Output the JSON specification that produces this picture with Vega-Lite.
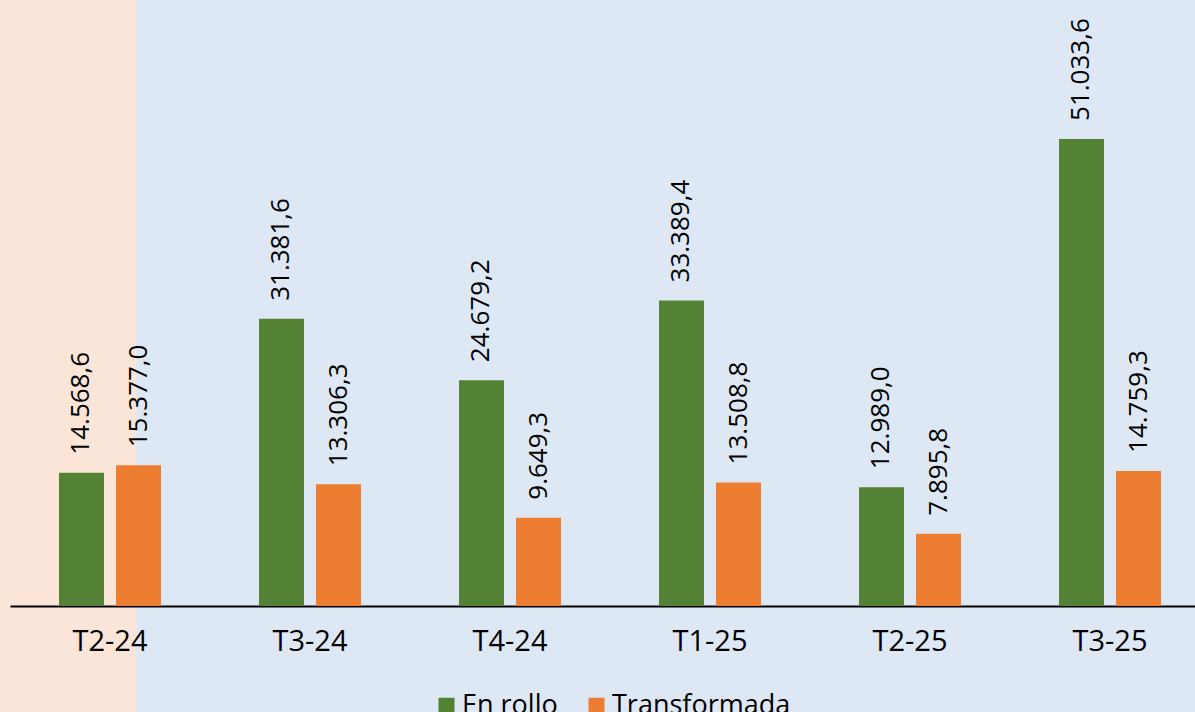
{
  "$schema": "https://vega.github.io/schema/vega-lite/v6.json",
  "width": 1195,
  "height": 712,
  "padding": 0,
  "autosize": {"type": "none"},
  "background": "#FBE5D8",
  "config": {
    "font": "Open Sans",
    "locale": {"number": {"decimal": ",", "thousands": ".", "grouping": [3], "currency": ["$", ""]}},
    "view": {
      "stroke": null,
      "fill": {
        "gradient": "linear", "x1": 0, "x2": 1, "y1": 0, "y2": 0,
        "stops": [
          {"offset": 0, "color": "#FBE5D8"},
          {"offset": 0.1138, "color": "#FBE5D8"},
          {"offset": 0.1138, "color": "#DEE8F5"},
          {"offset": 1, "color": "#DEE8F5"}
        ]
      }
    }
  },
  "data": {
    "values": [
      {"trimestre": "T2-24", "serie": "En rollo", "valor": 14568.6},
      {"trimestre": "T2-24", "serie": "Transformada", "valor": 15377.0},
      {"trimestre": "T3-24", "serie": "En rollo", "valor": 31381.6},
      {"trimestre": "T3-24", "serie": "Transformada", "valor": 13306.3},
      {"trimestre": "T4-24", "serie": "En rollo", "valor": 24679.2},
      {"trimestre": "T4-24", "serie": "Transformada", "valor": 9649.3},
      {"trimestre": "T1-25", "serie": "En rollo", "valor": 33389.4},
      {"trimestre": "T1-25", "serie": "Transformada", "valor": 13508.8},
      {"trimestre": "T2-25", "serie": "En rollo", "valor": 12989.0},
      {"trimestre": "T2-25", "serie": "Transformada", "valor": 7895.8},
      {"trimestre": "T3-25", "serie": "En rollo", "valor": 51033.6},
      {"trimestre": "T3-25", "serie": "Transformada", "valor": 14759.3}
    ]
  },
  "encoding": {
    "x": {
      "field": "trimestre", "type": "nominal", "sort": null,
      "scale": {"range": [10, 1210], "paddingInner": 0, "paddingOuter": 0},
      "axis": {
        "title": null, "offset": -106, "domainColor": "#000000", "domainWidth": 2,
        "ticks": false, "tickSize": 0, "grid": false, "labelAngle": 0,
        "labelFontSize": 29, "labelColor": "#000000", "labelPadding": 21
      }
    },
    "xOffset": {
      "field": "serie", "type": "nominal", "sort": ["En rollo", "Transformada"],
      "scale": {"paddingInner": 0.2105, "paddingOuter": 0.8596}
    },
    "y": {
      "field": "valor", "type": "quantitative",
      "scale": {"domain": [-11583, 66222], "nice": false, "zero": false},
      "axis": null
    }
  },
  "layer": [
    {
      "mark": {"type": "bar"},
      "encoding": {
        "color": {
          "field": "serie", "type": "nominal",
          "scale": {"domain": ["En rollo", "Transformada"], "range": ["#548235", "#ED7D31"]},
          "legend": {
            "title": null, "orient": "none", "legendX": 433, "legendY": 692,
            "direction": "horizontal", "symbolType": "square", "symbolSize": 256,
            "symbolStrokeWidth": 0, "labelFontSize": 27, "labelColor": "#000000",
            "labelOffset": 2, "columnPadding": 25, "padding": 0, "labelLimit": 0
          }
        }
      }
    },
    {
      "mark": {"type": "text", "angle": -90, "align": "left", "baseline": "middle", "dx": 18, "fontSize": 26, "color": "#000000"},
      "encoding": {
        "text": {"field": "valor", "type": "quantitative", "format": ",.1f"}
      }
    }
  ]
}
